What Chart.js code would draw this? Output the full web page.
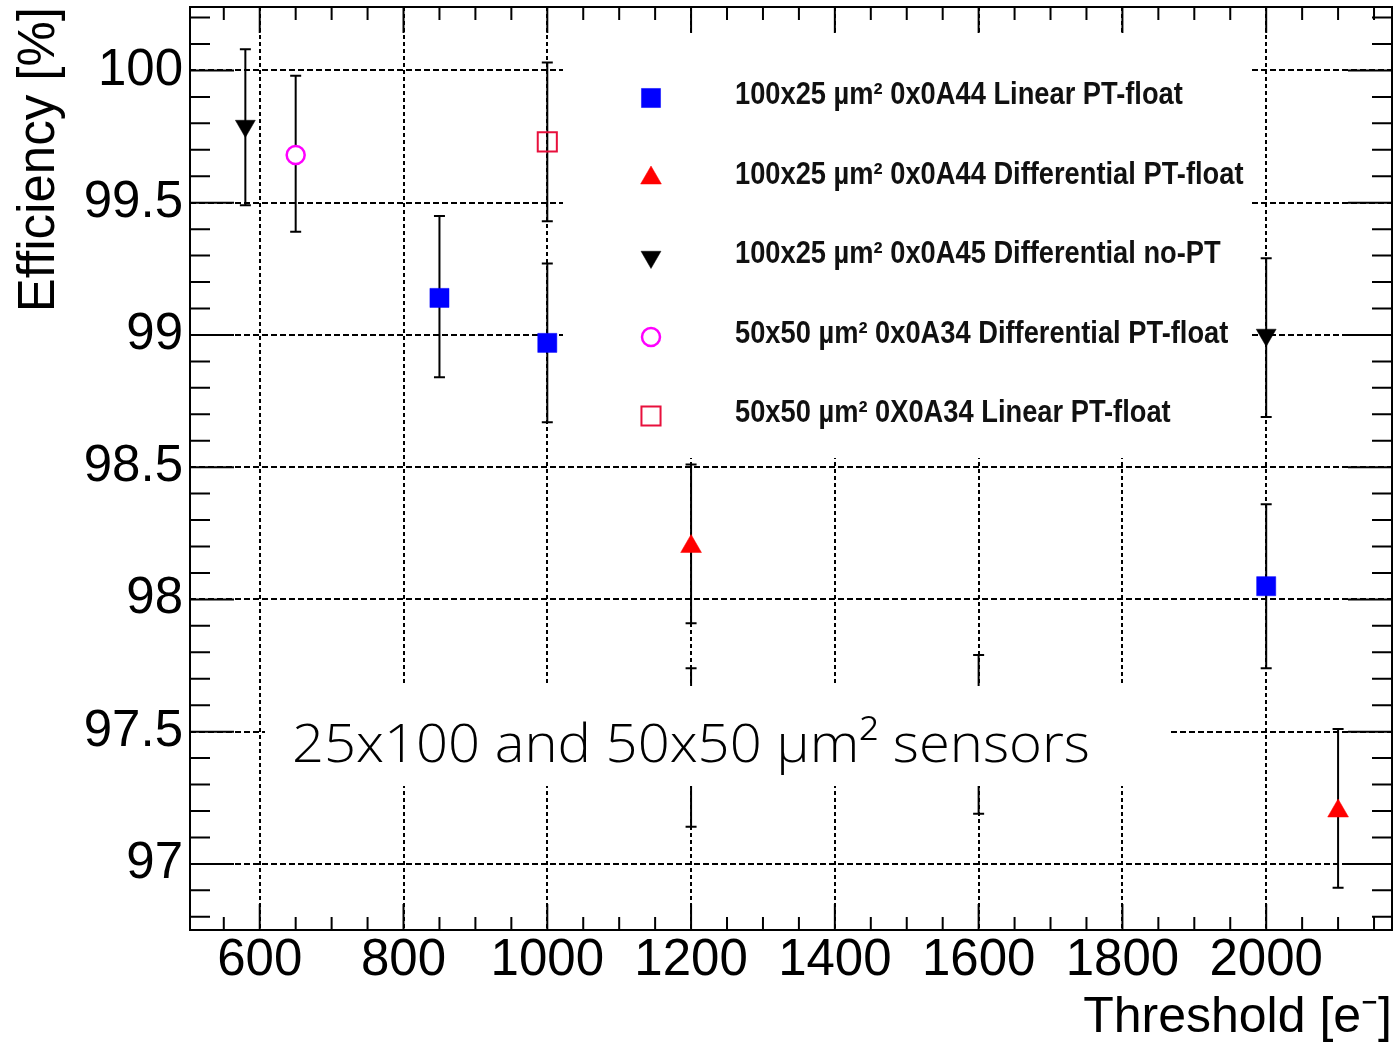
<!DOCTYPE html>
<html><head><meta charset="utf-8">
<script src="https://cdn.jsdelivr.net/npm/chart.js@4.4.1/dist/chart.umd.min.js"></script>
<style>html,body{margin:0;padding:0;background:#fff;overflow:hidden}#wrap{width:1394px;height:1042px;position:relative}</style>
</head><body><div id="wrap"><canvas id="c"></canvas></div>
<script>
// ---- axis definitions ----
const xTicks = [600, 800, 1000, 1200, 1400, 1600, 1800, 2000];
const yTicks = [97, 97.5, 98, 98.5, 99, 99.5, 100];
const xMin = 503, xMax = 2175, yMin = 96.75, yMax = 100.24;
const xMinorStep = 50, yMinorStep = 0.1;
const xTitle = 'Threshold [e\u207B]';
const yTitle = 'Efficiency [%]';
const annotation = '25x100 and 50x50 \u00B5m\u00B2 sensors';

// ---- series ----
const seriesLabels = [
  '100x25 \u00B5m\u00B2 0x0A44 Linear PT-float',
  '100x25 \u00B5m\u00B2 0x0A44 Differential PT-float',
  '100x25 \u00B5m\u00B2 0x0A45 Differential no-PT',
  '50x50 \u00B5m\u00B2 0x0A34 Differential PT-float',
  '50x50 \u00B5m\u00B2 0X0A34 Linear PT-float'
];
const linX = [850, 1000, 2000];
const linY = [99.14, 98.97, 98.05];
const linLo = [98.84, 98.67, 97.74];
const linHi = [99.45, 99.27, 98.36];

const diffX = [1200, 2100];
const diffY = [98.20, 97.20];
const diffLo = [97.91, 96.91];
const diffHi = [98.51, 97.51];

const noptX = [580, 1200, 1600, 2000];
const noptY = [99.79, 97.44, 97.49, 99.00];
const noptLo = [99.49, 97.14, 97.19, 98.69];
const noptHi = [100.08, 97.74, 97.79, 99.29];

const d50X = [650];
const d50Y = [99.68];
const d50Lo = [99.39];
const d50Hi = [99.98];

const l50X = [1000];
const l50Y = [99.73];
const l50Lo = [99.43];
const l50Hi = [100.03];

const pts = (xs, ys) => xs.map((x, i) => ({x: x, y: ys[i]}));

const datasets = [
  {label: seriesLabels[0], data: pts(linX, linY), errLo: linLo, errHi: linHi,
   pointStyle: 'rect', pointRadius: 13.5, backgroundColor: '#0000ff', borderColor: '#0000ff', borderWidth: 0.5, pointRotation: 0},
  {label: seriesLabels[1], data: pts(diffX, diffY), errLo: diffLo, errHi: diffHi,
   pointStyle: 'triangle', pointRadius: 12, backgroundColor: '#ff0000', borderColor: '#ff0000', borderWidth: 0.5, pointRotation: 0},
  {label: seriesLabels[2], data: pts(noptX, noptY), errLo: noptLo, errHi: noptHi,
   pointStyle: 'triangle', pointRadius: 11.5, backgroundColor: '#000000', borderColor: '#000000', borderWidth: 0.5, pointRotation: 180},
  {label: seriesLabels[3], data: pts(d50X, d50Y), errLo: d50Lo, errHi: d50Hi,
   pointStyle: 'circle', pointRadius: 9, backgroundColor: '#ffffff', borderColor: '#ff00ff', borderWidth: 2.5, pointRotation: 0},
  {label: seriesLabels[4], data: pts(l50X, l50Y), errLo: l50Lo, errHi: l50Hi,
   pointStyle: 'rect', pointRadius: 13.5, backgroundColor: 'rgba(0,0,0,0)', borderColor: '#e8103c', borderWidth: 2, pointRotation: 0}
];

const FRAME = {legendBox: [563, 34, 1252, 458], legendMarkX: 651, legendTextX: 735,
  legendRows: [98, 178, 257, 337, 416], legendTextW: 0.88,
  annBox: [265, 686, 1170, 786], annX: 292, annBase: 762, annW: 798};

const decorPlugin = {
  id: 'decor',
  beforeDatasetsDraw(chart) {
    const ctx = chart.ctx, xs = chart.scales.x, ys = chart.scales.y;
    const b = FRAME.legendBox;
    ctx.save();
    ctx.fillStyle = '#fff';
    ctx.fillRect(b[0], b[1], b[2] - b[0], b[3] - b[1]);
    chart.data.datasets.forEach((ds, i) => {
      const y = FRAME.legendRows[i];
      ctx.save();
      ctx.fillStyle = ds.backgroundColor; ctx.strokeStyle = ds.borderColor; ctx.lineWidth = ds.borderWidth;
      Chart.helpers.drawPoint(ctx, {pointStyle: ds.pointStyle, radius: ds.pointRadius, rotation: ds.pointRotation, borderWidth: ds.borderWidth}, FRAME.legendMarkX, y);
      ctx.restore();
      ctx.save();
      ctx.font = 'bold 31px "Liberation Sans", Arial, sans-serif';
      ctx.fillStyle = '#111';
      ctx.textBaseline = 'middle';
      ctx.translate(FRAME.legendTextX, y - 3);
      ctx.scale(FRAME.legendTextW, 1);
      ctx.fillText(ds.label, 0, 0);
      ctx.restore();
    });
    ctx.strokeStyle = '#000'; ctx.lineWidth = 2;
    chart.data.datasets.forEach(ds => {
      ds.data.forEach((p, j) => {
        const px = xs.getPixelForValue(p.x);
        const yl = ys.getPixelForValue(ds.errLo[j]);
        const yh = ys.getPixelForValue(ds.errHi[j]);
        ctx.beginPath();
        ctx.moveTo(px, yl); ctx.lineTo(px, yh);
        ctx.moveTo(px - 5.5, yl); ctx.lineTo(px + 5.5, yl);
        ctx.moveTo(px - 5.5, yh); ctx.lineTo(px + 5.5, yh);
        ctx.stroke();
      });
    });
    ctx.restore();
  },
  afterDatasetsDraw(chart) {
    const ctx = chart.ctx, xs = chart.scales.x, ys = chart.scales.y, a = chart.chartArea;
    ctx.save();
    const ab = FRAME.annBox;
    ctx.fillStyle = '#fff';
    ctx.fillRect(ab[0], ab[1], ab[2] - ab[0], ab[3] - ab[1]);
    ctx.font = '300 54px "Open Sans", "Noto Sans", sans-serif';
    ctx.fillStyle = '#000';
    ctx.textBaseline = 'alphabetic';
    const w = ctx.measureText(annotation).width;
    ctx.translate(FRAME.annX, FRAME.annBase);
    ctx.scale(FRAME.annW / w, 1);
    ctx.fillText(annotation, 0, 0);
    ctx.restore();

    ctx.save();
    ctx.strokeStyle = '#000';
    ctx.lineWidth = 2;
    ctx.strokeRect(a.left, a.top, a.right - a.left, a.bottom - a.top);
    ctx.beginPath();
    const isMajor = (v, arr) => arr.some(t => Math.abs(t - v) < 1e-6);
    for (let v = Math.ceil(xMin / xMinorStep) * xMinorStep; v <= xMax; v += xMinorStep) {
      const px = xs.getPixelForValue(v);
      const L = isMajor(v, xTicks) ? 26 : 13;
      ctx.moveTo(px, a.bottom); ctx.lineTo(px, a.bottom - L);
      ctx.moveTo(px, a.top); ctx.lineTo(px, a.top + L);
    }
    for (let k = Math.ceil(yMin / yMinorStep); k * yMinorStep <= yMax + 1e-9; k++) {
      const v = Math.round(k * yMinorStep * 10) / 10;
      const py = ys.getPixelForValue(v);
      const L = isMajor(v, yTicks) ? 44 : 20;
      ctx.moveTo(a.left, py); ctx.lineTo(a.left + L, py);
      ctx.moveTo(a.right, py); ctx.lineTo(a.right - L, py);
    }
    ctx.stroke();
    ctx.restore();
  }
};

const tickFont = {family: '"Liberation Sans", Arial, sans-serif', size: 51, lineHeight: 1.1};
const xTitleFont = {family: '"Liberation Sans", Arial, sans-serif', size: 50, lineHeight: 0.95};
const yTitleFont = {family: '"Liberation Sans", Arial, sans-serif', size: 51, lineHeight: 1.1};

new Chart(document.getElementById('c'), {
  type: 'scatter',
  data: {datasets: datasets},
  options: {
    responsive: true, maintainAspectRatio: false, animation: false, devicePixelRatio: 1,
    events: [],
    layout: {autoPadding: false, padding: {top: 7, right: 2, left: 0, bottom: 0}},
    plugins: {legend: {display: false}, tooltip: {enabled: false}},
    scales: {
      x: {
        type: 'linear', min: xMin, max: xMax,
        afterBuildTicks: s => { s.ticks = xTicks.map(v => ({value: v})); },
        afterFit: s => { s.height = 112; s.paddingLeft = 0; s.paddingRight = 0; },
        ticks: {font: tickFont, color: '#000', padding: 3, maxRotation: 0, autoSkip: false, callback: v => String(v)},
        grid: {display: true, drawTicks: false, color: '#000', lineWidth: 2},
        border: {display: false, dash: [4, 3]},
        title: {display: true, text: xTitle, align: 'end', font: xTitleFont, color: '#000', padding: {top: 0, bottom: 0}}
      },
      y: {
        type: 'linear', min: yMin, max: yMax,
        afterBuildTicks: s => { s.ticks = yTicks.map(v => ({value: v})); },
        afterFit: s => { s.width = 190; s.paddingTop = 0; s.paddingBottom = 0; },
        ticks: {font: tickFont, color: '#000', padding: 7, autoSkip: false, callback: v => String(v)},
        grid: {display: true, drawTicks: false, color: '#000', lineWidth: 2},
        border: {display: false, dash: [6, 3]},
        title: {display: true, text: yTitle, align: 'end', font: yTitleFont, color: '#000', padding: {top: 12, bottom: 0}}
      }
    }
  },
  plugins: [decorPlugin]
});
</script>
</body></html>
